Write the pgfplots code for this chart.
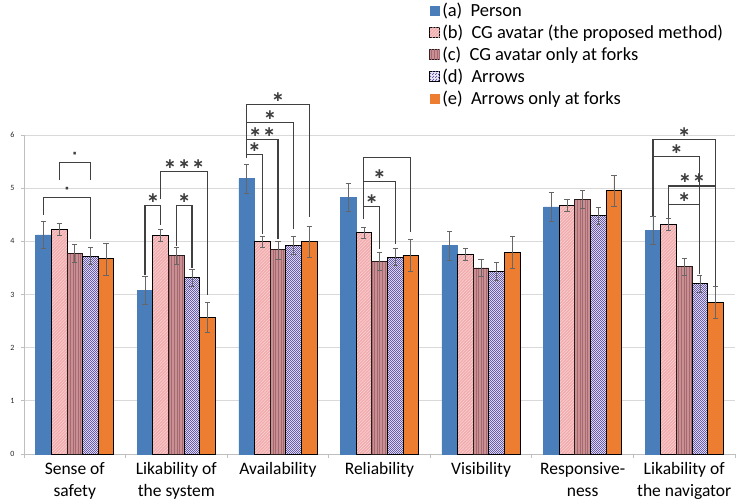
\documentclass[border=0pt]{standalone}
\usepackage{pgfplots}
\pgfplotsset{compat=1.18}
\usepackage{fontspec}
\setmainfont{Carlito}
\newfontfamily\dejavu{DejaVu Sans}
\usetikzlibrary{patterns,patterns.meta}

\pgfdeclarepatternformonly{finecheck}{\pgfpointorigin}{\pgfpoint{2.4pt}{2.4pt}}{\pgfpoint{2.4pt}{2.4pt}}{%
 \pgfpathrectangle{\pgfpointorigin}{\pgfpoint{1.2pt}{1.2pt}}%
 \pgfpathrectangle{\pgfpoint{1.2pt}{1.2pt}}{\pgfpoint{1.2pt}{1.2pt}}%
 \pgfusepath{fill}}

\definecolor{cA}{HTML}{4A7EBB}
\definecolor{cB}{HTML}{F2ACAE}
\definecolor{cBl}{HTML}{FAD8D8}
\definecolor{cC}{HTML}{C98F92}
\definecolor{cCd}{HTML}{A46A70}
\definecolor{cDl}{HTML}{EEEAF8}
\definecolor{cDd}{HTML}{6A5CAE}
\definecolor{cE}{HTML}{ED7D31}
\definecolor{gridc}{HTML}{D9D9D9}
\definecolor{axc}{HTML}{BFBFBF}
\definecolor{brk}{HTML}{404040}

\tikzset{
 sA/.style={fill=cA, draw=cA, line width=0.4pt},
 sB/.style={preaction={fill=cB}, pattern={Lines[angle=45,distance=2.2pt,line width=0.5pt]}, pattern color=cBl},
 sC/.style={preaction={fill=cC}, pattern={Lines[angle=90,distance=2.6pt,line width=0.6pt]}, pattern color=cCd},
 sD/.style={preaction={fill=cDl}, pattern=finecheck, pattern color=cDd},
 sE/.style={fill=cE},
}
\newcommand{\lgimg}[1]{\fill[#1,draw=none] (0pt,-5pt) rectangle (10pt,5pt);}
\newcommand{\sig}[7]{%
 \draw[brk,line width=1.2pt] (axis cs:#1,#4) |- (axis cs:#2,#3) -- (axis cs:#2,#5);
 \node[font=\dejavu\bfseries\fontsize{14}{14}\selectfont, text=brk, inner sep=0pt] at (axis cs:#6,#3) [yshift=7.5pt] {#7};}

\begin{document}
\begin{tikzpicture}
\path[use as bounding box] (0,0) rectangle (748pt,504pt);
\begin{axis}[
 at={(24pt,50pt)}, anchor=south west,
 width=711pt, height=319pt, scale only axis,
 ybar=0pt, bar width=0.154,
 xmin=-0.5, xmax=6.5, ymin=0, ymax=6,
 clip=false,
 axis lines*=left,
 axis line style={draw=axc, line width=0.8pt},
 ymajorgrids, grid style={draw=gridc, line width=0.8pt},
 ytick={0,1,...,6},
 xtick={0,...,6},
 xticklabels={{Sense of\\safety},{Likability of\\the system},{Availability\\\strut},{Reliability\\\strut},{Visibility\\\strut},{Responsive-\\ness},{Likability of\\the navigator}},
 xticklabel style={align=center, font=\fontsize{17.5}{21.5}\selectfont, yshift=-2pt},
 yticklabel style={font=\fontsize{8}{9}\selectfont, text=black!85, xshift=-3pt},
 /pgf/number format/assume math mode=true,
 major x tick style={draw=none},
 minor xtick={-0.5,0.5,...,6.5},
 minor x tick style={draw=axc, line width=0.8pt},
 minor tick length=4pt,
 major tick length=3pt,
 y tick style={draw=axc, line width=0.8pt},
 tick align=outside,
 error bars/error bar style={line width=0.6pt, draw=black!60},
 error bars/error mark options={rotate=90, mark size=2.6pt, line width=0.6pt, draw=black!60},
 legend style={at={(0.57,1.42)}, anchor=north west, draw=none, fill=none,
   font=\fontsize{18.5}{21}\selectfont, row sep=3pt, inner sep=0pt},
 legend cell align=left,
]
\addplot[sA, legend image code/.code={\lgimg{sA}}, error bars/.cd, y dir=both, y explicit] coordinates {
 (0,4.12) +- (0,0.26) (1,3.08) +- (0,0.27) (2,5.18) +- (0,0.27) (3,4.83) +- (0,0.27)
 (4,3.92) +- (0,0.27) (5,4.65) +- (0,0.27) (6,4.21) +- (0,0.27)};
\addplot[sB, draw=black, line width=0.8pt, legend image code/.code={\lgimg{sB}}, error bars/.cd, y dir=both, y explicit] coordinates {
 (0,4.23) +- (0,0.11) (1,4.11) +- (0,0.11) (2,3.99) +- (0,0.11) (3,4.16) +- (0,0.11)
 (4,3.76) +- (0,0.11) (5,4.68) +- (0,0.11) (6,4.32) +- (0,0.11)};
\addplot[sC, draw=black!75!cCd, line width=0.8pt, legend image code/.code={\lgimg{sC}}, error bars/.cd, y dir=both, y explicit] coordinates {
 (0,3.77) +- (0,0.17) (1,3.73) +- (0,0.16) (2,3.84) +- (0,0.17) (3,3.63) +- (0,0.17)
 (4,3.50) +- (0,0.16) (5,4.79) +- (0,0.17) (6,3.53) +- (0,0.16)};
\addplot[sD, draw=black, line width=0.8pt, legend image code/.code={\lgimg{sD}}, error bars/.cd, y dir=both, y explicit] coordinates {
 (0,3.72) +- (0,0.16) (1,3.32) +- (0,0.16) (2,3.92) +- (0,0.17) (3,3.70) +- (0,0.16)
 (4,3.43) +- (0,0.17) (5,4.48) +- (0,0.16) (6,3.21) +- (0,0.16)};
\addplot[sE, draw=black, line width=0.8pt, legend image code/.code={\lgimg{sE}}, error bars/.cd, y dir=both, y explicit] coordinates {
 (0,3.67) +- (0,0.30) (1,2.57) +- (0,0.28) (2,3.99) +- (0,0.29) (3,3.74) +- (0,0.30)
 (4,3.79) +- (0,0.30) (5,4.95) +- (0,0.29) (6,2.85) +- (0,0.30)};
\legend{(a)\hspace{0.45em}Person,(b)\hspace{0.45em}CG avatar (the proposed method),(c)\hspace{0.45em}CG avatar only at forks,(d)\hspace{0.45em}Arrows,(e)\hspace{0.45em}Arrows only at forks}

% Sense of safety
\sig{-0.308}{0.154}{4.82}{4.50}{4.04}{-0.077}{·}
\sig{-0.154}{0.154}{5.48}{5.15}{5.15}{0}{·}
% Likability of the system
\sig{0.692}{0.846}{4.67}{3.36}{4.30}{0.769}{∗}
\sig{0.846}{1.308}{5.31}{4.79}{3.00}{1.077}{∗\,∗\,∗}
\sig{1.0}{1.154}{4.67}{3.91}{3.50}{1.077}{∗}
% Availability
\sig{1.692}{1.846}{5.64}{5.57}{4.13}{1.769}{∗}
\sig{1.692}{2.0}{5.92}{5.57}{4.04}{1.846}{∗\,∗}
\sig{1.692}{2.154}{6.23}{5.57}{4.23}{1.923}{∗}
\sig{1.692}{2.308}{6.58}{5.57}{4.45}{2.0}{∗}
% Reliability
\sig{2.846}{3.0}{4.65}{4.42}{3.85}{2.923}{∗}
\sig{2.846}{3.154}{5.12}{4.42}{3.95}{3.0}{∗}
\sig{2.846}{3.308}{5.57}{4.42}{4.18}{3.077}{}
% Likability of the navigator
\sig{5.692}{6.308}{5.91}{4.48}{3.16}{6.0}{∗}
\sig{5.692}{6.154}{5.59}{4.48}{3.38}{5.923}{∗}
\sig{5.846}{6.308}{5.04}{4.43}{3.16}{6.077}{∗\,∗}
\sig{5.846}{6.154}{4.69}{4.43}{3.38}{6.0}{∗}
\end{axis}
\end{tikzpicture}
\end{document}
